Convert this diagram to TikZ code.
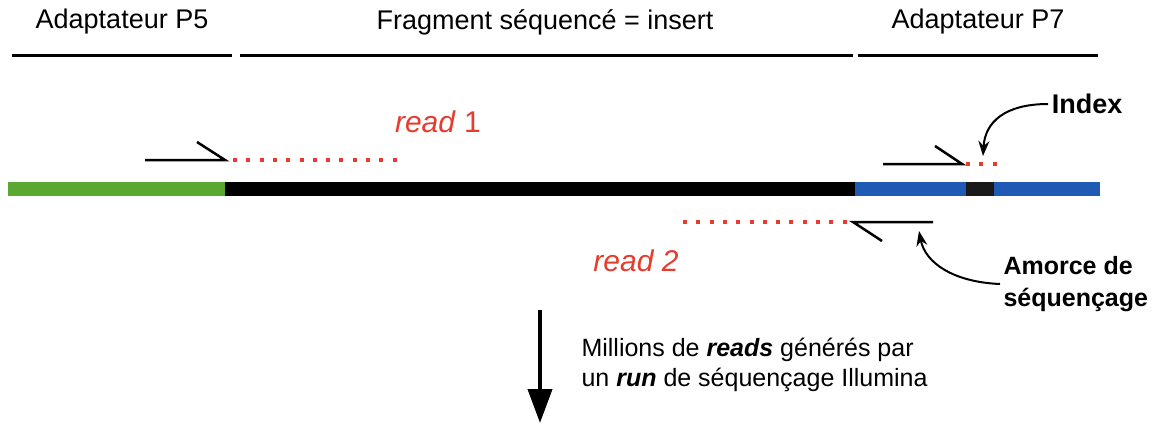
\documentclass[tikz,border=0pt]{standalone}
\usepackage{fontspec}
\setmainfont{Liberation Sans}
\usetikzlibrary{arrows.meta}

\definecolor{AdaptP5}{HTML}{5AA832}
\definecolor{AdaptP7}{HTML}{1F5AB4}
\definecolor{ReadRed}{HTML}{E63B2E}
\definecolor{IndexBlk}{HTML}{1A1A1A}

\begin{document}
\begin{tikzpicture}[x=1pt, y=-1pt,
  header/.style={font=\fontsize{27}{32}\selectfont},
  readlbl/.style={text=ReadRed, font=\fontsize{30}{36}\selectfont},
  callout/.style={font=\fontsize{25}{32}\selectfont\bfseries, align=left},
  primer/.style={line width=2.5, line join=miter},
  readdots/.style={ReadRed, line width=4, dash pattern=on 4pt off 9.3pt},
  pointer/.style={line width=2, -{Stealth[length=15pt, width=11pt]}}]

  \useasboundingbox (0,0) rectangle (1158,423);

  %%%%%%%%%% Points pour travailler %%%%%%%%%%
  \coordinate (g0) at (8,189);
  \coordinate (g1) at (225,189);
  \coordinate (g2) at (855,189);
  \coordinate (g3) at (1100,189);
  \coordinate (i0) at (966,189);
  \coordinate (i1) at (994,189);

  %%%%%%%%%% Legendes du haut %%%%%%%%%%
  \node[header] (p5) at (122,22) {Adaptateur P5};
  \node[header] (ins) at (545,22) {Fragment séquencé = insert};
  \node[header] (p7) at (978,22) {Adaptateur P7};
  \draw [line width=3] (12,55) -- (232,55) ;
  \draw [line width=3] (240,55) -- (853,55) ;
  \draw [line width=3] (858,55) -- (1098,55) ;

  %%%%%%%%%% Molecule %%%%%%%%%%
  \draw [line width=14, color=AdaptP5] (g0) -- (g1) ;
  \draw [line width=14, color=black] (g1) -- (g2) ;
  \draw [line width=14, color=AdaptP7] (g2) -- (g3) ;
  \draw [line width=14, color=IndexBlk] (i0) -- (i1) ;

  %%%%%%%%%% Amorces %%%%%%%%%%
  \draw [primer] (145,160) -- (225,160) -- (197,142) ;
  \draw [primer] (883,164) -- (962,164) -- (935,146) ;
  \draw [primer] (933,222) -- (853,222) -- (882,241) ;

  %%%%%%%%%% Reads %%%%%%%%%%
  \draw [readdots] (233,160) -- (397,160) ;
  \draw [readdots] (966,164) -- (1000,164) ;
  \draw [readdots] (683,222) -- (847,222) ;
  \node[readlbl] (r1) at (438,122) {\textit{read} 1};
  \node[readlbl] (r2) at (636,261) {\textit{read 2}};

  %%%%%%%%%% Fleches de legende %%%%%%%%%%
  \node[callout, font=\fontsize{27}{32}\selectfont\bfseries] (index) at (1087,104) {Index};
  \node[callout, anchor=west] (amorce) at (1000,284) {Amorce de\\séquençage};
  \coordinate (idx) at (983,156);
  \coordinate (amo) at (919,231);
  \draw [pointer] (index.west) .. controls (1005,104) and (985,122) .. (idx) ;
  \draw [pointer] (amorce.west) .. controls (952,282) and (925,262) .. (amo) ;

  %%%%%%%%%% Sortie du run %%%%%%%%%%
  \coordinate (a0) at (540,310);
  \coordinate (a1) at (540,423);
  \draw [line width=4, -{Triangle[width=24pt, length=34pt]}] (a0) -- (a1) ;
  \node[anchor=west, align=left, font=\fontsize{25}{30}\selectfont] (run) at (578,365)
    {Millions de \textbf{\textit{reads}} générés par\\un \textbf{\textit{run}} de séquençage Illumina};

\end{tikzpicture}
\end{document}
